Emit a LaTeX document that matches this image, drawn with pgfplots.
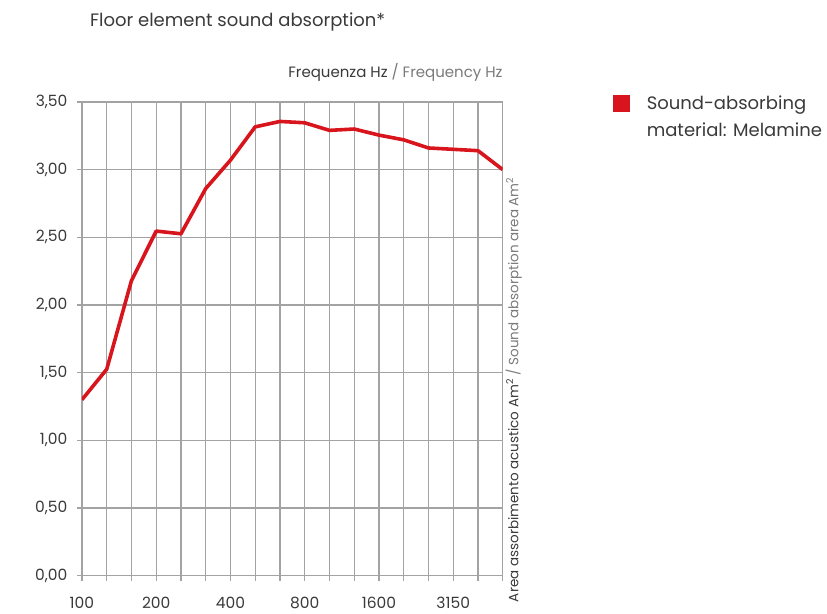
\documentclass[border=0pt]{standalone}
\usepackage{pgfplots}
\pgfplotsset{compat=1.18}
\usepackage{fontspec}
\setmainfont{Poppins}
\definecolor{gridgray}{HTML}{A3A3A3}
\definecolor{linered}{HTML}{D8141C}
\definecolor{txtdark}{HTML}{3A3A3A}
\definecolor{txtlight}{HTML}{7A7A7A}
\begin{document}
\begin{tikzpicture}[x=1pt,y=1pt]
\begin{axis}[
  at={(0pt,0pt)}, anchor=south west,
  scale only axis, width=421pt, height=474pt,
  xmin=0, xmax=17, ymin=0, ymax=3.5,
  xtick={0,...,17},
  xticklabels={100,,,200,,,400,,,800,,,1600,,,3150,,},
  ytick={0,0.5,1,1.5,2,2.5,3,3.5},
  /pgf/number format/assume math mode=true,
  yticklabel={\pgfmathprintnumber[fixed,fixed zerofill,precision=2,use comma]{\tick}},
  grid=major,
  grid style={draw=gridgray, line width=1.3pt},
  axis line style={draw=gridgray, line width=1.3pt},
  major tick style={draw=gridgray, line width=1.3pt},
  tick align=outside, major tick length=5pt,
  xtick pos=bottom, ytick pos=left,
  tick label style={font=\fontsize{15.5}{19}\selectfont, text=txtdark},
  xticklabel style={yshift=-13pt},
  yticklabel style={xshift=-6pt},
  every axis y label/.style={at={(axis description cs:1.026,-0.063)}, rotate=90, anchor=west, font=\fontsize{13.5}{16}\selectfont},
  ylabel={\textcolor{txtdark}{Area assorbimento acustico Am\textsuperscript{2}} \textcolor{txtlight}{/ Sound absorption area Am\textsuperscript{2}}},
  legend style={at={(1.254,1.022)}, anchor=north west, draw=none, fill=none,
    font=\fontsize{18}{27}\selectfont, text=txtdark, nodes={align=left}},
  legend cell align=left,
  legend image code/.code={\fill[linered, draw=none] (0pt,5pt) rectangle (17pt,22pt); \path[draw=none, fill=none] (0pt,0pt) rectangle (32pt,0.1pt);},
]
\addplot[linered, line width=3.6pt, line join=round] coordinates {
 (0,1.30) (1,1.525) (2,2.18) (3,2.546) (4,2.526) (5,2.86) (6,3.07) (7,3.316)
 (8,3.356) (9,3.346) (10,3.29) (11,3.30) (12,3.255) (13,3.22) (14,3.16)
 (15,3.15) (16,3.14) (17,3.00)
};
\addlegendentry{Sound-absorbing\\material: Melamine}
\end{axis}
\node[anchor=west, font=\fontsize{18}{21}\selectfont, text=txtdark, inner sep=0pt] at (8pt,554pt) {Floor element sound absorption*};
\node[anchor=east, font=\fontsize{15}{18}\selectfont, inner sep=0pt] at (421pt,504pt) {\textcolor{txtdark}{Frequenza Hz} \textcolor{txtlight}{/ Frequency Hz}};
\path[use as bounding box] (-82pt,-38pt) rectangle (745pt,576pt);
\end{tikzpicture}
\end{document}
